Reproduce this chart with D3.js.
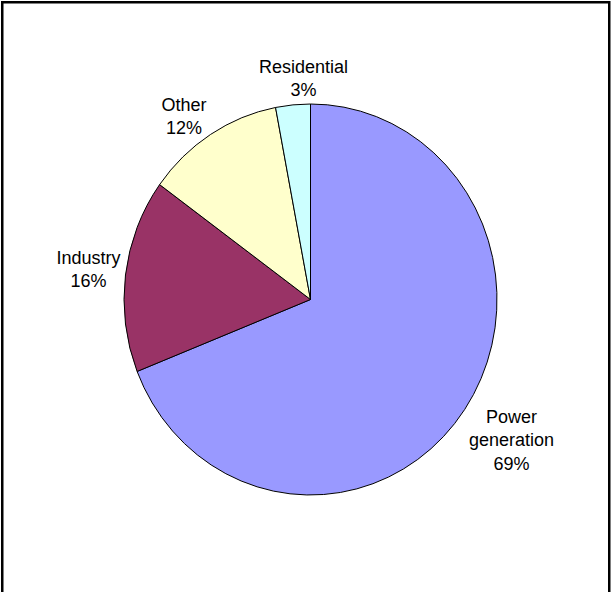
<!DOCTYPE html>
<html>
<head>
<meta charset="utf-8">
<script src="https://cdn.jsdelivr.net/npm/d3@7/dist/d3.min.js"></script>
<style>
  html, body { margin: 0; padding: 0; background: #fff; }
  svg { display: block; }
  .lbl { font-family: "Liberation Sans", Arial, sans-serif; font-size: 18px; fill: #000; }
</style>
</head>
<body>
<div id="chart"></div>
<script>
// data (share of total, %)
const categories = ['Power generation', 'Industry', 'Other', 'Residential'];
const shares = [69, 16, 12, 3];
const sliceColors = ['#9999ff', '#993366', '#ffffcc', '#ccffff'];

(function() {
  const width = 612, height = 592;
  const cx = 310.5, cy = 299.5, rx = 186.5, ry = 195.5;
  const lineH = 23.5, gap = 5;
  const minSep = 34 * Math.PI / 180; // labels closer than this get spread apart

  const svg = d3.select('#chart').append('svg')
      .attr('width', width)
      .attr('height', height);

  // outer frame (bottom edge runs off the page)
  svg.append('rect')
    .attr('x', 2.25).attr('y', 2.25)
    .attr('width', 607).attr('height', 640)
    .attr('fill', 'none')
    .attr('stroke', '#000')
    .attr('stroke-width', 2.5);

  const rows = categories.map((c, i) => ({name: c, value: shares[i], color: sliceColors[i]}));

  const pie = d3.pie().sort(null).value(d => d.value);
  const arcs = pie(rows);
  const arc = d3.arc().innerRadius(0).outerRadius(ry);

  // pie is slightly taller than wide in the reference
  const g = svg.append('g').attr('transform', `translate(${cx},${cy}) scale(${rx / ry},1)`);
  g.selectAll('path')
    .data(arcs)
    .join('path')
    .attr('d', arc)
    .attr('fill', d => d.data.color)
    .attr('stroke', '#000')
    .attr('stroke-width', 1)
    .attr('vector-effect', 'non-scaling-stroke');

  // label angles: slice mid angle, nudged apart where two small slices crowd
  arcs.forEach(a => { a.labelAngle = (a.startAngle + a.endAngle) / 2; });
  for (let i = 0; i < arcs.length - 1; i++) {
    const a = arcs[i], b = arcs[i + 1];
    const sep = b.labelAngle - a.labelAngle;
    if (sep < minSep) {
      const push = (minSep - sep) / 2;
      a.labelAngle -= push;
      b.labelAngle += push;
    }
  }

  const labels = svg.append('g');
  arcs.forEach(a => {
    const ang = a.labelAngle;
    const dx = Math.sin(ang), dy = -Math.cos(ang);
    const lines = a.data.name.split(' ').concat([a.data.value + '%']);

    const t = labels.append('text').attr('class', 'lbl').attr('text-anchor', 'middle');
    lines.forEach((s, i) => {
      t.append('tspan').attr('x', 0).attr('dy', i === 0 ? 0 : lineH).text(s);
    });
    const bb = t.node().getBBox();
    const w = bb.width, h = (lines.length - 1) * lineH + 16;
    const k = Math.min(Math.abs(dx) > 1e-6 ? (w / 2) / Math.abs(dx) : Infinity,
                       Math.abs(dy) > 1e-6 ? (h / 2) / Math.abs(dy) : Infinity);
    const ex = cx + rx * dx, ey = cy + ry * dy;
    const bx = ex + dx * (k + gap), by = ey + dy * (k + gap);
    // first baseline: box centre minus half the block, plus cap height
    const firstBase = by - h / 2 + 13;
    t.attr('transform', `translate(${bx},${firstBase})`);
  });
})();
</script>
</body>
</html>
